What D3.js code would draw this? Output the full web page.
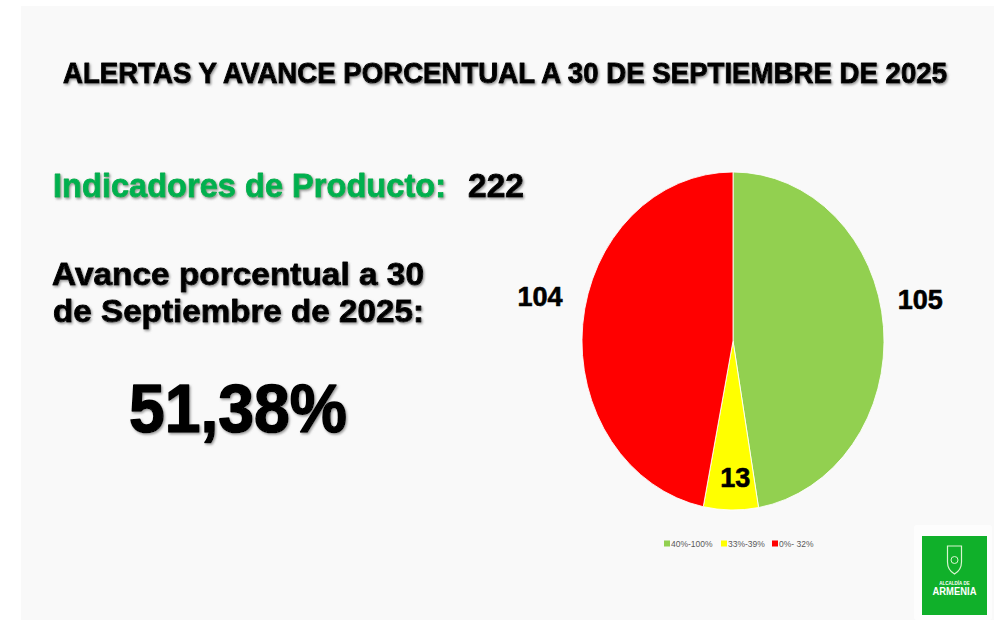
<!DOCTYPE html>
<html lang="es">
<head>
<meta charset="UTF-8">
<title>Alertas y avance porcentual</title>
<script src="https://cdn.jsdelivr.net/npm/d3@7"></script>
<style>
    body{
        margin: 0;
        background: #ffffff;
        font-family: "Liberation Sans", Arial, sans-serif;
    }
    .grueso{
        stroke-linejoin: round;
    }
</style>
</head>
<body>
<div id="grafico"></div>
<script>
    // datos del grafico
    const categorias = ['40%-100%', '33%-39%', '0%- 32%']
    const valores = [105, 13, 104]
    const colores = ['#92D050', '#FFFF00', '#FF0000']
    const titulo = 'ALERTAS Y AVANCE PORCENTUAL A 30 DE SEPTIEMBRE DE 2025'
    const totalIndicadores = 222
    const avance = '51,38%'

    const W = 994, H = 620

    var svg = d3.select('#grafico')
        .append('svg')
        .attr('width', W)
        .attr('height', H)

    const defs = svg.append('defs')
    defs.append('filter')
        .attr('id', 'sombra')
        .attr('x', '-5%').attr('y', '-20%').attr('width', '110%').attr('height', '150%')
        .append('feDropShadow')
        .attr('dx', 1.2).attr('dy', 1.5)
        .attr('stdDeviation', 0.8)
        .attr('flood-color', '#7f7f7f')
        .attr('flood-opacity', 0.8)

    // fondo gris claro
    svg.append('rect')
        .attr('x', 21).attr('y', 6)
        .attr('width', W - 21).attr('height', H - 6)
        .style('fill', '#f9f9f9')

    // titulo
    svg.append('text')
        .attr('class', 'grueso')
        .attr('x', 505).attr('y', 83)
        .attr('text-anchor', 'middle')
        .attr('textLength', 884)
        .attr('lengthAdjust', 'spacingAndGlyphs')
        .attr('filter', 'url(#sombra)')
        .style('font', 'bold 29px "Liberation Sans", Arial')
        .style('fill', '#000')
        .style('stroke', '#000')
        .style('stroke-width', 1)
        .text(titulo)

    // textos de la izquierda
    const izq = svg.append('g').attr('filter', 'url(#sombra)')

    izq.append('text')
        .attr('class', 'grueso')
        .attr('x', 53).attr('y', 197)
        .attr('textLength', 393)
        .attr('lengthAdjust', 'spacingAndGlyphs')
        .style('font', 'bold 33px "Liberation Sans", Arial')
        .style('fill', '#00B050')
        .style('stroke', '#00B050')
        .style('stroke-width', 0.9)
        .text('Indicadores de Producto:')

    izq.append('text')
        .attr('class', 'grueso')
        .attr('x', 468).attr('y', 197)
        .attr('textLength', 56)
        .attr('lengthAdjust', 'spacingAndGlyphs')
        .style('font', 'bold 33px "Liberation Sans", Arial')
        .style('fill', '#000')
        .style('stroke', '#000')
        .style('stroke-width', 0.9)
        .text(totalIndicadores)

    izq.append('text')
        .attr('class', 'grueso')
        .attr('x', 52).attr('y', 285)
        .attr('textLength', 372)
        .attr('lengthAdjust', 'spacingAndGlyphs')
        .style('font', 'bold 31px "Liberation Sans", Arial')
        .style('fill', '#000')
        .style('stroke', '#000')
        .style('stroke-width', 0.9)
        .text('Avance porcentual a 30')

    izq.append('text')
        .attr('class', 'grueso')
        .attr('x', 53).attr('y', 322)
        .attr('textLength', 371)
        .attr('lengthAdjust', 'spacingAndGlyphs')
        .style('font', 'bold 31px "Liberation Sans", Arial')
        .style('fill', '#000')
        .style('stroke', '#000')
        .style('stroke-width', 0.9)
        .text('de Septiembre de 2025:')

    izq.append('text')
        .attr('class', 'grueso')
        .attr('x', 129).attr('y', 432)
        .attr('textLength', 218)
        .attr('lengthAdjust', 'spacingAndGlyphs')
        .style('font', 'bold 69px "Liberation Sans", Arial')
        .style('fill', '#000')
        .style('stroke', '#000')
        .style('stroke-width', 1.6)
        .text(avance)

    // torta (eliptica)
    const cx = 733, cy = 341, rx = 151, ry = 169
    const pie = d3.pie().sort(null).value(d => d)
    const arcos = pie(valores)
    const arc = d3.arc().innerRadius(0).outerRadius(rx)

    const torta = svg.append('g')
        .attr('transform', `translate(${cx}, ${cy}) scale(1, ${ry / rx})`)

    torta.selectAll('path')
        .data(arcos)
        .enter()
        .append('path')
        .attr('d', arc)
        .style('fill', (d, i) => colores[i])
        .style('stroke', '#ffffff')
        .style('stroke-width', 0.8)

    // etiquetas
    const arcoFuera = d3.arc().innerRadius(188).outerRadius(188)
    const arcoDentro = d3.arc().innerRadius(122).outerRadius(122)
    const escY = ry / rx
    const esChico = d => (d.endAngle - d.startAngle) < 0.5

    svg.selectAll('text.etiqueta')
        .data(arcos)
        .enter()
        .append('text')
        .attr('class', 'etiqueta grueso')
        .attr('text-anchor', 'middle')
        .attr('x', d => {
            const c = esChico(d) ? arcoDentro.centroid(d) : arcoFuera.centroid(d)
            return cx + c[0] + (esChico(d) ? 4 : (c[0] < 0 ? -6 : 0))
        })
        .attr('y', d => {
            const c = esChico(d) ? arcoDentro.centroid(d) : arcoFuera.centroid(d)
            return cy + c[1] * escY + (esChico(d) ? 9 : -14)
        })
        .style('font', 'bold 27px "Liberation Sans", Arial')
        .style('fill', '#000')
        .style('stroke', '#000')
        .style('stroke-width', 0.6)
        .text(d => d.data)

    // leyenda
    const leyendaX = [664, 721, 772]
    const leyenda = svg.append('g').attr('transform', 'translate(0, 544)')
    const item = leyenda.selectAll('g')
        .data(categorias)
        .enter()
        .append('g')
        .attr('transform', (d, i) => `translate(${leyendaX[i]}, 0)`)
    item.append('rect')
        .attr('x', 0).attr('y', -3.5)
        .attr('width', 6).attr('height', 6)
        .style('fill', (d, i) => colores[i])
    item.append('text')
        .attr('x', 7).attr('y', 3)
        .style('font', '8.5px "Liberation Sans", Arial')
        .style('fill', '#595959')
        .text(d => d)

    // logo alcaldia
    svg.append('rect')
        .attr('x', 914).attr('y', 525)
        .attr('width', 78).attr('height', 95)
        .attr('rx', 3)
        .style('fill', '#fdfdfd')
    svg.append('rect')
        .attr('x', 922).attr('y', 536)
        .attr('width', 65).attr('height', 79)
        .style('fill', '#10b02a')
    const logo = svg.append('g').attr('transform', 'translate(954.5, 560)')
    logo.append('path')
        .attr('d', 'M-7,-14 L7,-14 L7,2 Q7,10 0,14 Q-7,10 -7,2 Z')
        .style('fill', 'none')
        .style('stroke', '#d9f5d0')
        .style('stroke-width', 1.2)
    logo.append('circle')
        .attr('cx', 0).attr('cy', 0).attr('r', 3.5)
        .style('fill', 'none')
        .style('stroke', '#d9f5d0')
        .style('stroke-width', 1)
    svg.append('text')
        .attr('x', 954.5).attr('y', 585)
        .attr('text-anchor', 'middle')
        .style('font', 'bold 4.5px "Liberation Sans", Arial')
        .style('fill', '#ffffff')
        .text('ALCALDÍA DE')
    svg.append('text')
        .attr('x', 954.5).attr('y', 595)
        .attr('text-anchor', 'middle')
        .attr('textLength', 44)
        .attr('lengthAdjust', 'spacingAndGlyphs')
        .style('font', 'bold 10px "Liberation Sans", Arial')
        .style('fill', '#ffffff')
        .text('ARMENIA')
</script>
</body>
</html>
